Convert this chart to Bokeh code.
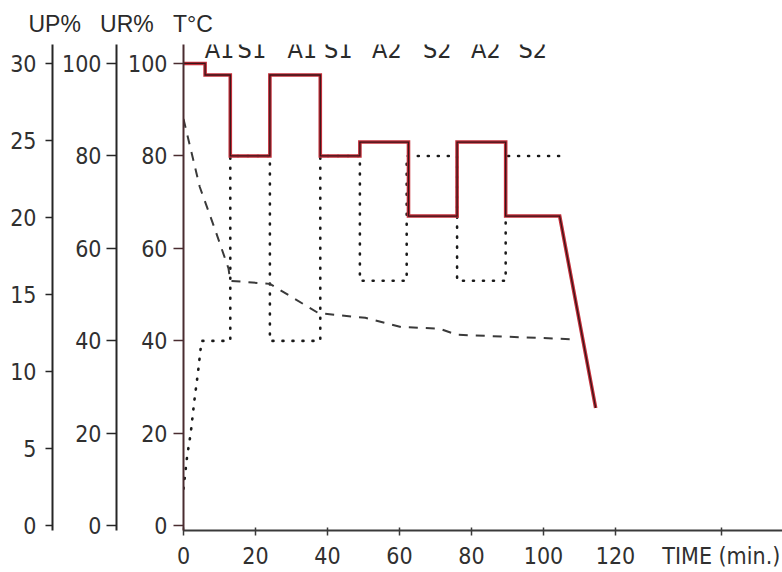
from bokeh.plotting import figure
from bokeh.models import Range1d, LinearAxis, FixedTicker, ColumnDataSource, LabelSet, Title
from bokeh.core.properties import value
from bokeh.embed import file_html
from bokeh.resources import INLINE

# ---- data ----
temp_time = [0, 6, 6, 13, 13, 24, 24, 38, 38, 49, 49, 62.5, 62.5, 76, 76, 89.5, 89.5, 104.5, 114.5]
temp_c = [100, 100, 97.5, 97.5, 80, 80, 97.5, 97.5, 80, 80, 83, 83, 67, 67, 83, 83, 67, 67, 25.5]

ur_time = [0, 1, 2, 3, 4, 5, 13, 13, 24, 24, 38, 38, 49, 49, 62, 62, 76, 76, 89.5, 89.5, 105]
ur_pct = [8, 15, 20, 27, 33, 40, 40, 80, 80, 40, 40, 80, 80, 53, 53, 80, 80, 53, 53, 80, 80]

up_time = [0, 4.5, 8.5, 12.5, 13, 24, 37.5, 50.5, 60.5, 71, 76, 109]
up_pct = [26.4, 22.0, 19.4, 16.7, 15.9, 15.7, 13.8, 13.5, 12.9, 12.8, 12.4, 12.1]

phase_names = ["A1", "S1", "A1", "S1", "A2", "S2", "A2", "S2"]
phase_time = [10, 19, 33, 43, 56.5, 70.5, 84, 97]

time_ticks = [0, 20, 40, 60, 80, 100, 120]
temp_ticks = [0, 20, 40, 60, 80, 100]
ur_ticks = [0, 20, 40, 60, 80, 100]
up_ticks = [0, 5, 10, 15, 20, 25, 30]

axis_titles = ["UP%", "UR%", "T°C"]
x_title = "TIME (min.)"
x_title_at = 149.4  # where the x title sits along the time axis

NARROW = "'DejaVu Sans Condensed', 'Liberation Sans Narrow', sans-serif"
SANS = "'Liberation Sans', Arial, sans-serif"
INK = "#262626"

p = figure(width=782, height=572, output_backend="svg", toolbar_location=None,
           x_range=Range1d(0, 166.4), y_range=Range1d(-1.0, 104.1),
           min_border_left=183, min_border_right=0, min_border_top=44, min_border_bottom=42,
           background_fill_color="white", border_fill_color="white")
p.outline_line_color = None
p.grid.visible = False
p.extra_y_ranges = {"ur": Range1d(-1.0, 104.1), "up": Range1d(-0.3, 31.23)}


def style_y(ax, ticks, tick_out, standoff, pad, color=INK):
    ax.ticker = FixedTicker(ticks=ticks, minor_ticks=[])
    ax.axis_line_width = 2
    ax.axis_line_color = color
    ax.major_tick_line_color = color
    ax.major_tick_line_width = 1.5
    ax.major_tick_out = tick_out
    ax.major_tick_in = 0
    ax.minor_tick_line_color = None
    ax.major_label_standoff = standoff
    ax.major_label_text_font = NARROW
    ax.major_label_text_font_size = "23px"
    ax.major_label_text_color = "#303030"
    if pad is not None:
        ax.axis_label = " "
        ax.axis_label_text_font_size = "1px"
        ax.axis_label_standoff = pad


# T axis (default, innermost)
style_y(p.yaxis[0], temp_ticks, 10, 6, 4, color="#4a2c30")
ax_ur = LinearAxis(y_range_name="ur")
style_y(ax_ur, ur_ticks, 10, 5, 2)
p.add_layout(ax_ur, "left")
ax_up = LinearAxis(y_range_name="up")
style_y(ax_up, up_ticks, 7, 9, None)
p.add_layout(ax_up, "left")

xa = p.xaxis[0]
xa.ticker = FixedTicker(ticks=time_ticks + [x_title_at], minor_ticks=[])
xa.major_label_overrides = {x_title_at: x_title}
xa.axis_line_width = 2
xa.axis_line_color = "#3a3a3a"
xa.major_tick_line_color = "#3a3a3a"
xa.major_tick_line_width = 1.5
xa.major_tick_out = 5
xa.major_tick_in = 3
xa.minor_tick_line_color = None
xa.major_label_standoff = 7
xa.major_label_text_font = NARROW
xa.major_label_text_font_size = "23px"
xa.major_label_text_color = "#303030"

# series
p.line(ur_time, ur_pct, y_range_name="ur", line_color="#1a1a1a", line_width=2.6,
       line_dash="1 9", line_cap="round")
p.line(up_time, up_pct, y_range_name="up", line_color="#3a3a3a", line_width=2,
       line_dash="9 8")
p.line(temp_time, temp_c, line_color="#c42f3a", line_width=3.6, line_join="miter")
p.line(temp_time, temp_c, line_color="#3a1518", line_width=1.3, line_join="miter")

# phase labels
src = ColumnDataSource(dict(x=phase_time, y=[103.0] * len(phase_time), text=phase_names))
p.add_layout(LabelSet(x="x", y="y", text="text", source=src, text_align="center",
                      text_baseline="middle", text_font=value(NARROW),
                      text_font_size="25px", text_color="#2a2a2a"))

# axis titles above the three axes
nb = "\u00a0" * 3
p.add_layout(Title(text=nb.join(axis_titles), align="left", offset=-155, standoff=16,
                   text_font=SANS, text_font_size="23px", text_font_style="normal",
                   text_color="#2a2a2a"), "above")

open("out.html", "w").write(file_html(p, INLINE))
